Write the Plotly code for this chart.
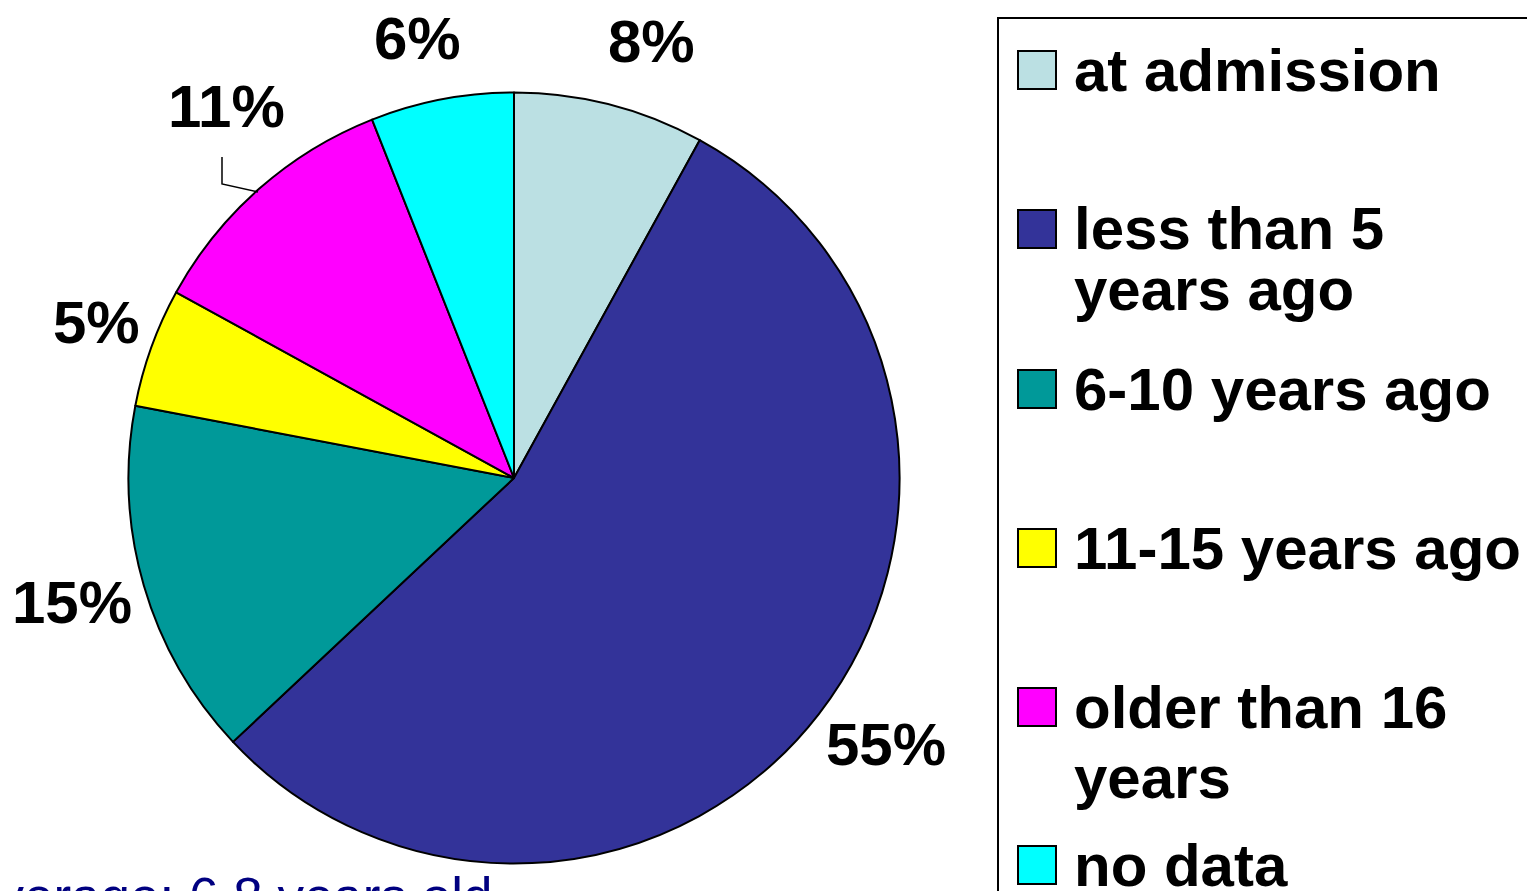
import math
import plotly.graph_objects as go

# ---- data ----
categories = ["at admission", "less than 5 years ago", "6-10 years ago",
              "11-15 years ago", "older than 16 years", "no data"]
legend_lines = [["at admission"], ["less than 5", "years ago"], ["6-10 years ago"],
                ["11-15 years ago"], ["older than 16", "years"], ["no data"]]
values = [8, 55, 15, 5, 11, 6]
colors = ["#BBE0E3", "#333399", "#009999", "#FFFF00", "#FF00FF", "#00FFFF"]
note_text = "average: 6.8 years old"

# ---- layout helpers (window pixels -> paper; page body has an 8px margin) ----
OFF = 8
W, H = 1535 - OFF, 891 - OFF
def px(x):
    return (x - OFF) / W
def py(y):
    return 1 - (y - OFF) / H

CX, CY, R = 514, 478, 385.5
FONT = "Liberation Sans, Arial, sans-serif"
LBL_SIZE = 60

fig = go.Figure(go.Pie(
    labels=categories, values=values, sort=False, direction="clockwise",
    rotation=0, textinfo="none", hoverinfo="label+percent",
    marker=dict(colors=colors, line=dict(color="black", width=2)),
    domain=dict(x=[px(CX - R), px(CX + R)], y=[py(CY + R), py(CY - R)]),
    showlegend=False,
))

annotations = []
shapes = []

# percentage labels: placed around the slice mid-angles (PowerPoint-style nudges)
label_radius = 458
nudges = [(24, 7), (10, -14), (-2, -3), (13, 0), (15, -28), (-11, 10)]
total = sum(values)
cum = 0
for v, (dx, dy) in zip(values, nudges):
    mid = (cum + v / 2) / total * 2 * math.pi
    cum += v
    lx = CX + label_radius * math.sin(mid) + dx
    ly = CY - label_radius * math.cos(mid) + dy
    annotations.append(dict(
        x=px(lx), y=py(ly), xref="paper", yref="paper", showarrow=False,
        text="<b>%d%%</b>" % round(100 * v / total), xanchor="center", yanchor="middle",
        font=dict(family=FONT, size=LBL_SIZE, color="black")))

# leader line for the 11% label
shapes.append(dict(type="path", xref="paper", yref="paper",
                   path="M %f,%f L %f,%f L %f,%f" % (px(222), py(157), px(222), py(184), px(258), py(192)),
                   line=dict(color="black", width=1.5)))

# legend frame
shapes.append(dict(type="rect", xref="paper", yref="paper",
                   x0=px(998), x1=px(1600), y0=py(1000), y1=py(18),
                   line=dict(color="black", width=2), fillcolor="rgba(0,0,0,0)"))

# legend items
swatch_centers = [70, 229, 389, 548, 707, 865]
line_gap = [[0], [0, 61], [0], [0], [0, 70], [0]]
for col, lines, yc, gaps in zip(colors, legend_lines, swatch_centers, line_gap):
    shapes.append(dict(type="rect", xref="paper", yref="paper",
                       x0=px(1018), x1=px(1056), y0=py(yc + 19), y1=py(yc - 19),
                       fillcolor=col, line=dict(color="black", width=2)))
    for t, g in zip(lines, gaps):
        annotations.append(dict(
            x=px(1072), y=py(yc + g), xref="paper", yref="paper",
            showarrow=False, text="<b>%s</b>" % t, xanchor="left", yanchor="middle",
            font=dict(family=FONT, size=LBL_SIZE, color="black")))

# note text (partly cut off by the page edge)
annotations.append(dict(
    x=px(494), y=py(896), xref="paper", yref="paper", showarrow=False,
    text=note_text, xanchor="right", yanchor="middle",
    font=dict(family=FONT, size=53, color="#000080")))

fig.update_layout(
    width=W, height=H, margin=dict(l=0, r=0, t=0, b=0),
    paper_bgcolor="white", plot_bgcolor="white",
    annotations=annotations, shapes=shapes,
)

fig.write_html("out.html")
